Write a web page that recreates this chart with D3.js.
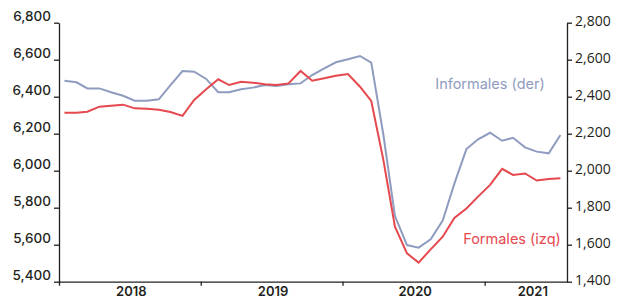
<!DOCTYPE html>
<html>
<head>
<meta charset="utf-8">
<script src="https://cdn.jsdelivr.net/npm/d3@7"></script>
<style>
  body { margin: 0; background: #fff; }
  svg { display: block; }
</style>
</head>
<body>
<script>
// monthly series, Jan 2018 .. Jul 2021
var startYear = 2018, startMonth = 0;

// Formales (left axis)
var formales = [
  6313, 6313, 6319, 6346, 6351, 6357, 6337, 6335, 6330, 6317, 6296, 6382,
  6440, 6494, 6463, 6481, 6476, 6467, 6463, 6472, 6539, 6486, 6500, 6513,
  6523, 6454, 6377, 6060, 5697, 5553, 5503, 5575, 5643, 5745, 5796, 5860,
  5923, 6010, 5977, 5985, 5947, 5955, 5959
];

// Informales (right axis)
var informales = [
  2486, 2478, 2445, 2445, 2424, 2405, 2378, 2378, 2386, 2462, 2539, 2535,
  2496, 2424, 2424, 2440, 2449, 2463, 2458, 2467, 2472, 2517, 2553, 2586,
  2602, 2620, 2584, 2197, 1755, 1598, 1584, 1629, 1730, 1930, 2117, 2170,
  2205, 2162, 2178, 2126, 2103, 2094, 2193
];

var leftTicks = [5400, 5600, 5800, 6000, 6200, 6400, 6600, 6800];
var rightTicks = [1400, 1600, 1800, 2000, 2200, 2400, 2600, 2800];
var years = [2018, 2019, 2020, 2021];
var seriesLabels = ['Formales (izq)', 'Informales (der)'];

var red = '#e5484e', blue = '#8f9cc0';
var axisColor = '#231f20';

var W = 628, H = 299;
var plot = {left: 59, right: 567, top: 22.7, bottom: 281.7};

var svg = d3.select('body').append('svg')
  .attr('width', W)
  .attr('height', H);

var dates = formales.map(function(d, i) {
  return new Date(startYear, startMonth + i, 15);
});

var x = d3.scaleTime()
  .domain([new Date(startYear, startMonth, 1), new Date(startYear, startMonth + formales.length, 1)])
  .range([plot.left, plot.right]);

var yL = d3.scaleLinear().domain([5400, 6800]).range([plot.bottom, plot.top]);
var yR = d3.scaleLinear().domain([1400, 2800]).range([plot.bottom, plot.top]);

// left axis
var leftAxis = svg.append('g')
  .attr('transform', 'translate(' + plot.left + ',0)')
  .call(d3.axisLeft(yL).tickValues(leftTicks).tickSize(5).tickSizeOuter(0).tickFormat(d3.format(',')));
leftAxis.selectAll('text')
  .attr('x', -8)
  .attr('dy', '-0.2em')
  .style('font-family', 'Inter, sans-serif')
  .style('font-size', '13.5px')
  .style('font-weight', 500)
  .attr('fill', axisColor);

// right axis
var rightAxis = svg.append('g')
  .attr('transform', 'translate(' + plot.right + ',0)')
  .call(d3.axisRight(yR).tickValues(rightTicks).tickSize(5).tickSizeOuter(0).tickFormat(d3.format(',')));
rightAxis.selectAll('text')
  .attr('x', 8)
  .attr('dy', '0.2em')
  .style('font-family', '"Open Sans", sans-serif')
  .style('font-size', '14px')
  .attr('fill', axisColor);

// bottom axis
var yearTicks = years.map(function(y) { return new Date(y, 0, 1); });
var bottomAxis = svg.append('g')
  .attr('transform', 'translate(0,' + plot.bottom + ')')
  .call(d3.axisBottom(x).tickValues(yearTicks).tickSize(4).tickSizeOuter(0).tickFormat(''));

bottomAxis.selectAll('.yearlabel')
  .data(years)
  .enter().append('text')
  .attr('class', 'yearlabel')
  .attr('x', function(y) {
    var mid = x(new Date(y, 6, 1));
    var end = (x(new Date(y, 0, 1)) + plot.right) / 2 + 5;
    return Math.min(mid, end) + 2;
  })
  .attr('y', 14.5)
  .attr('text-anchor', 'middle')
  .style('font-family', 'Inter, sans-serif')
  .style('font-size', '13px')
  .style('font-weight', 600)
  .attr('fill', axisColor)
  .text(function(y) { return y; });

svg.selectAll('.domain, .tick line')
  .attr('stroke', axisColor)
  .attr('stroke-width', 1.3);

// lines
var lineL = d3.line()
  .x(function(d, i) { return x(dates[i]); })
  .y(function(d) { return yL(d); });
var lineR = d3.line()
  .x(function(d, i) { return x(dates[i]); })
  .y(function(d) { return yR(d); });

svg.append('path')
  .datum(informales)
  .attr('fill', 'none')
  .attr('stroke', blue)
  .attr('stroke-width', 2)
  .attr('d', lineR);

svg.append('path')
  .datum(formales)
  .attr('fill', 'none')
  .attr('stroke', red)
  .attr('stroke-width', 2)
  .attr('d', lineL);

// series labels
svg.append('text')
  .attr('x', 512)
  .attr('y', 244)
  .attr('text-anchor', 'middle')
  .style('font-family', 'Inter, sans-serif')
  .style('font-size', '14.5px')
  .attr('fill', red)
  .text(seriesLabels[0]);

svg.append('text')
  .attr('x', 490)
  .attr('y', 88.5)
  .attr('text-anchor', 'middle')
  .style('font-family', 'Inter, sans-serif')
  .style('font-size', '14.5px')
  .attr('fill', blue)
  .text(seriesLabels[1]);
</script>
</body>
</html>
